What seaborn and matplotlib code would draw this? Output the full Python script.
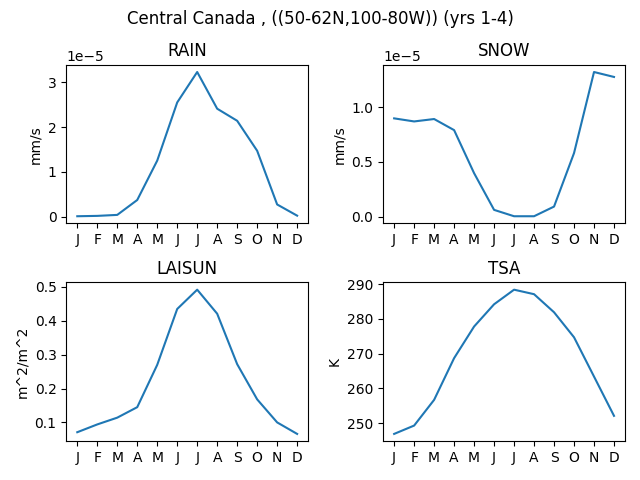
import matplotlib
matplotlib.use("Agg")
import matplotlib.pyplot as plt
import seaborn as sns
import numpy as np

months = ["J", "F", "M", "A", "M", "J", "J", "A", "S", "O", "N", "D"]
month_idx = list(range(1, 13))

rain = [0.007e-5, 0.015e-5, 0.037e-5, 0.37e-5, 1.25e-5, 2.55e-5, 3.23e-5, 2.41e-5, 2.14e-5, 1.47e-5, 0.27e-5, 0.02e-5]
snow = [0.897e-5, 0.869e-5, 0.891e-5, 0.790e-5, 0.398e-5, 0.064e-5, 0.006e-5, 0.006e-5, 0.094e-5, 0.581e-5, 1.319e-5, 1.274e-5]
laisun = [0.071, 0.094, 0.114, 0.145, 0.270, 0.435, 0.492, 0.421, 0.272, 0.168, 0.100, 0.066]
tsa = [246.9, 249.3, 256.7, 268.7, 277.8, 284.2, 288.4, 287.1, 281.9, 274.7, 263.4, 252.1]

panels = [("RAIN", rain, "mm/s"), ("SNOW", snow, "mm/s"),
          ("LAISUN", laisun, "m^2/m^2"), ("TSA", tsa, "K")]

fig, axes = plt.subplots(2, 2, figsize=(6.4, 4.8), dpi=100)
for ax, (name, vals, unit) in zip(axes.flat, panels):
    sns.lineplot(x=month_idx, y=vals, ax=ax, color="#1f77b4")
    ax.set_title(name)
    ax.set_ylabel(unit)
    ax.set_xticks(month_idx)
    ax.set_xticklabels(months)
fig.suptitle("Central Canada , ((50-62N,100-80W)) (yrs 1-4)")
fig.tight_layout()
fig.subplots_adjust(top=0.865, bottom=0.081, hspace=0.372)
fig.savefig("out.png")
